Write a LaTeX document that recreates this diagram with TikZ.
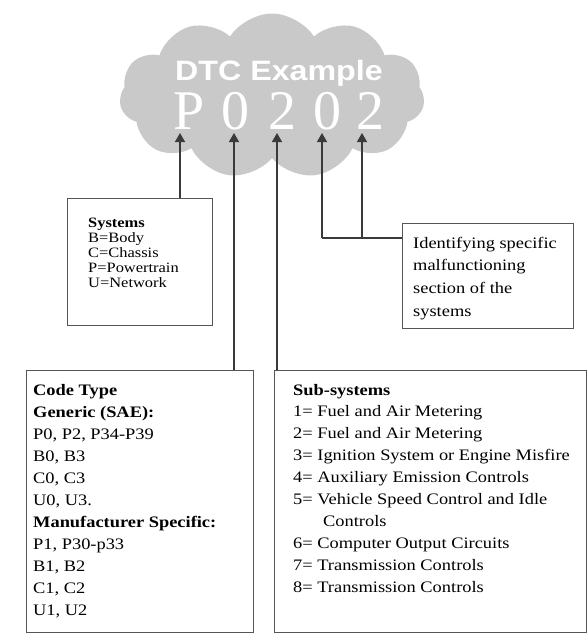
\documentclass[tikz,border=0pt]{standalone}
\usepackage{fontspec}
\setmainfont{Liberation Serif}[FakeStretch=1.15]
\newfontfamily\dtcfont{Liberation Sans}[FakeStretch=1.15]
\newfontfamily\codefont{Liberation Serif}
\usetikzlibrary{shapes.symbols,arrows.meta}
\definecolor{cloudgray}{HTML}{C9C9C9}
\definecolor{linegray}{HTML}{3A3A3A}
\definecolor{boxgray}{HTML}{555555}
\begin{document}
\begin{tikzpicture}[x=1pt,y=-1pt,
  boxst/.style={draw=boxgray,line width=1.3pt,rectangle,inner sep=0pt,anchor=north west},
  arr/.style={draw=linegray,line width=1.4pt,-{Triangle[width=10pt,length=9pt]}},
  link/.style={draw=linegray,line width=1.4pt},
  txt/.style={anchor=base west,inner sep=0pt,font=\fontsize{16}{22}\selectfont},
  stxt/.style={anchor=base west,inner sep=0pt,font=\fontsize{14.3}{15}\selectfont},
  digit/.style={anchor=base,inner sep=0pt,text=white,font=\codefont\fontsize{56}{56}\selectfont}]
\useasboundingbox (0,0) rectangle (588,635);
% cloud
\node[cloud,cloud puffs=11,cloud puff arc=115,aspect=1.9,fill=cloudgray,draw=none,
  minimum width=305pt,minimum height=165pt,inner sep=0pt] (cloud) at (272,96) {};
\node[anchor=base,inner sep=0pt,text=white,font=\dtcfont\bfseries\fontsize{28}{28}\selectfont] (title) at (279,80) {DTC Example};
\node[digit] (d1) at (189,129) {P};
\node[digit] (d2) at (235,129) {0};
\node[digit] (d3) at (282,129) {2};
\node[digit] (d4) at (327,129) {0};
\node[digit] (d5) at (370,129) {2};
% arrow tips
\coordinate (t1) at (180,133);
\coordinate (t2) at (234,133);
\coordinate (t3) at (277,133);
\coordinate (t4) at (322,133);
\coordinate (t5) at (362,133);
% boxes
\node[boxst,minimum width=145pt,minimum height=127pt] (sys) at (67,198) {};
\node[boxst,minimum width=171pt,minimum height=105pt] (ident) at (402,223) {};
\node[boxst,minimum width=227pt,minimum height=262pt] (code) at (26,370) {};
\node[boxst,minimum width=312pt,minimum height=262pt] (sub) at (274,370) {};
% connectors
\draw[arr] (t1 |- sys.north) -- (t1);
\draw[arr] (t2 |- code.north) -- (t2);
\draw[arr] (t3 |- sub.north) -- (t3);
\coordinate (j4) at (322,238);
\coordinate (j5) at (362,238);
\draw[arr] (j4) -- (t4);
\draw[arr] (j5) -- (t5);
\draw[link] (j4) -- (j4 -| ident.west);
% texts
\foreach \t [count=\i from 0] in {\textbf{Systems},B=Body,C=Chassis,P=Powertrain,U=Network}
  \node[stxt] (sys\i) at (88,{227+15*\i}) {\t};
\foreach \t [count=\i from 0] in {Identifying specific,malfunctioning,section of the,systems}
  \node[txt] (id\i) at (413,{248+22.7*\i}) {\t};
\foreach \t [count=\i from 0] in {\textbf{Code Type},\textbf{Generic (SAE):},{P0, P2, P34-P39},{B0, B3},{C0, C3},{U0, U3.},\textbf{Manufacturer Specific:},{P1, P30-p33},{B1, B2},{C1, C2},{U1, U2}}
  \node[txt] (ct\i) at (33,{395+22*\i}) {\t};
\foreach \t [count=\i from 0] in {\textbf{Sub-systems},1= Fuel and Air Metering,2= Fuel and Air Metering,3= Ignition System or Engine Misfire,4= Auxiliary Emission Controls,5= Vehicle Speed Control and Idle,\hspace{30pt}Controls,6= Computer Output Circuits,7= Transmission Controls,8= Transmission Controls}
  \node[txt] (ss\i) at (293,{395+21.9*\i}) {\t};
\end{tikzpicture}
\end{document}
